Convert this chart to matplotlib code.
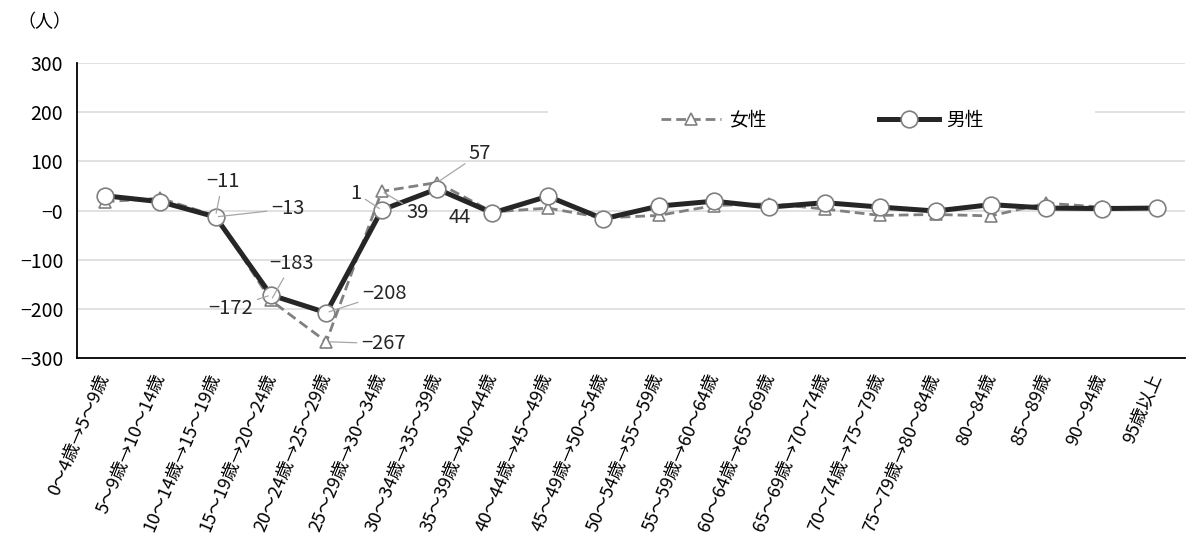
import matplotlib
matplotlib.use("Agg")
import matplotlib.pyplot as plt
import matplotlib.patches as mpatches

plt.rcParams['font.family'] = ['Noto Sans CJK JP', 'DejaVu Sans']
plt.rcParams['axes.unicode_minus'] = True

categories = [
    "0～4歳→5～9歳", "5～9歳→10～14歳", "10～14歳→15～19歳", "15～19歳→20～24歳",
    "20～24歳→25～29歳", "25～29歳→30～34歳", "30～34歳→35～39歳", "35～39歳→40～44歳",
    "40～44歳→45～49歳", "45～49歳→50～54歳", "50～54歳→55～59歳", "55～59歳→60～64歳",
    "60～64歳→65～69歳", "65～69歳→70～74歳", "70～74歳→75～79歳", "75～79歳→80～84歳",
    "80～84歳", "85～89歳", "90～94歳", "95歳以上",
]
female = [18, 25, -11, -183, -267, 39, 57, -3, 5, -15, -10, 10, 14, 3, -10, -8, -11, 15, 7, 5]
male = [30, 18, -13, -172, -208, 1, 44, -5, 29, -17, 9, 19, 7, 16, 7, -1, 12, 5, 4, 5]

yticks = [300, 200, 100, 0, -100, -200, -300]
ytick_labels = ["300", "200", "100", "−0", "−100", "−200", "−300"]

# labelled points: (series, index, offset in pixels, draw leader)
labels = [
    ('f', 2, (7, 34), True), ('m', 2, (72, 8), True),
    ('f', 3, (21, 37), True), ('m', 3, (-40, -13), True),
    ('f', 4, (57, -2), True), ('m', 4, (58, 19), True),
    ('f', 5, (36, -21), True), ('m', 5, (-26, 17), True),
    ('f', 6, (43, 29), True), ('m', 6, (23, -29), False),
]


def fmt(v):
    return f"−{abs(v)}" if v < 0 else str(v)


fig = plt.figure(figsize=(11.86, 5.35), dpi=100)
ax = fig.add_axes([0.065, 0.331, 0.934, 0.551])

x = list(range(len(categories)))
ax.plot(x, female, color='#808080', lw=2.0, dashes=(3.5, 1.8),
        marker='^', markersize=9, markerfacecolor='white',
        markeredgecolor='#808080', markeredgewidth=1.2, label='女性', zorder=3)
ax.plot(x, male, color='#262626', lw=3.6,
        marker='o', markersize=12, markerfacecolor='white',
        markeredgecolor='#7f7f7f', markeredgewidth=1.2, label='男性', zorder=4)

ax.set_xlim(-0.5, len(categories) - 0.5)
ax.set_ylim(-300, 300)
ax.set_yticks(yticks)
ax.set_yticklabels(ytick_labels, fontsize=14)
ax.set_xticks(x)
ax.set_xticklabels(categories, fontsize=13, rotation=67, ha='right',
                   va='center', rotation_mode='anchor')
ax.tick_params(axis='both', length=0)
ax.tick_params(axis='y', pad=10)
ax.tick_params(axis='x', pad=12)

ax.set_axisbelow(True)
ax.yaxis.grid(True, color='#d9d9d9', lw=1.1)
for side in ['top', 'right']:
    ax.spines[side].set_visible(False)
for side in ['left', 'bottom']:
    ax.spines[side].set_color('black')
    ax.spines[side].set_linewidth(1.3)

# white area behind the legend breaks the 200 gridline
ax.add_patch(mpatches.Rectangle((0.425, 0.74), 0.494, 0.13, transform=ax.transAxes,
                                facecolor='white', edgecolor='none', zorder=1))
ax.legend(loc='center', bbox_to_anchor=(0.673, 0.807), ncol=2, frameon=False,
          fontsize=13.5, handlelength=3.2, handletextpad=0.4, columnspacing=6.0,
          numpoints=1)

for series, i, off, leader in labels:
    v = female[i] if series == 'f' else male[i]
    arrow = dict(arrowstyle='-', color='#a6a6a6', lw=0.9, shrinkA=1, shrinkB=2) if leader else None
    ax.annotate(fmt(v), xy=(i, v), xytext=off, textcoords='offset pixels',
                ha='center', va='center', fontsize=14.5, color='#262626',
                arrowprops=arrow, zorder=5)

fig.text(44 / 1186, 1 - 22 / 535, "（人）", ha='center', va='center', fontsize=13)

fig.savefig("out.png", dpi=100)
